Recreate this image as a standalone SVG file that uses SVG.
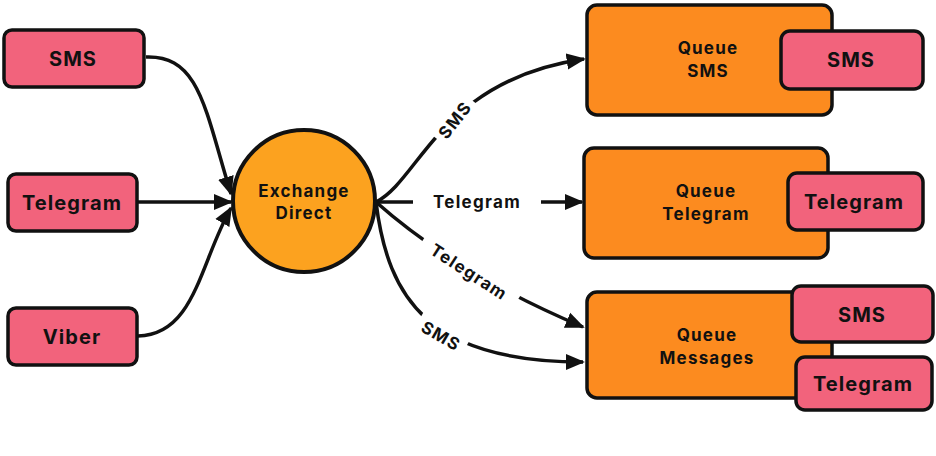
<svg xmlns="http://www.w3.org/2000/svg" width="936" height="456" viewBox="0 0 936 456">
<style>
.pink{fill:#F2637C;stroke:#111;stroke-width:3.5}
.orange{fill:#FC8B1F;stroke:#111;stroke-width:3.5}
.circ{fill:#FCA21F;stroke:#111;stroke-width:4}
.t{font-family:Inter,"Liberation Sans",sans-serif;font-weight:700;fill:#111;text-anchor:middle;dominant-baseline:central}
.big{font-size:20px;letter-spacing:1.1px}
.mid{font-size:17px;letter-spacing:1.2px}
.lbl{font-size:17px;letter-spacing:1.3px}
.edge{fill:none;stroke:#111;stroke-width:3.5}
.gap{fill:#fff}
</style>
<defs>
<marker id="ah" viewBox="0 0 10 10" refX="9" refY="5" markerWidth="5.5" markerHeight="5.5" orient="auto" markerUnits="strokeWidth">
<path d="M0,0.8 L10,5 L0,9.2 z" fill="#111"/>
</marker>
</defs>
<rect width="936" height="456" fill="#fff"/>

<g id="connectors">
<path class="edge" d="M146,57 C200,55 205,110 231,194" marker-end="url(#ah)"/>
<path class="edge" d="M138,202 L231,202" marker-end="url(#ah)"/>
<path class="edge" d="M138,336 C195,335 200,262 231,208" marker-end="url(#ah)"/>
<path class="edge" d="M376,202 C420,180 440,80 584,59" marker-end="url(#ah)"/>
<path class="edge" d="M376,202 L582,202" marker-end="url(#ah)"/>
<path class="edge" d="M376,202 C430,250 500,292 583,327" marker-end="url(#ah)"/>
<path class="edge" d="M376,202 C388,300 430,362 583,362" marker-end="url(#ah)"/>
<rect class="gap" x="-26" y="-13" width="52" height="26" transform="translate(455,120) rotate(-52)"/>
<rect class="gap" x="-64" y="-13" width="128" height="26" transform="translate(477,202)"/>
<rect class="gap" x="-56" y="-13" width="112" height="26" transform="translate(469,272) rotate(33)"/>
<rect class="gap" x="-27" y="-13" width="54" height="26" transform="translate(441,336) rotate(30)"/>
<text class="t lbl" transform="translate(455,120) rotate(-52)">SMS</text>
<text class="t lbl" transform="translate(477,202)">Telegram</text>
<text class="t lbl" transform="translate(469,272) rotate(33)">Telegram</text>
<text class="t lbl" transform="translate(441,336) rotate(30)">SMS</text>
</g>

<g id="src-sms">
<rect class="pink" x="4" y="30" width="140" height="57" rx="8"/>
<text class="t big" x="73" y="59">SMS</text>
</g>
<g id="src-telegram">
<rect class="pink" x="8" y="174" width="129" height="57" rx="8"/>
<text class="t big" x="72" y="203">Telegram</text>
</g>
<g id="src-viber">
<rect class="pink" x="8" y="308" width="129" height="57" rx="8"/>
<text class="t big" x="72" y="337">Viber</text>
</g>

<g id="exchange">
<circle class="circ" cx="304" cy="201" r="71"/>
<text class="t mid" x="304" y="191">Exchange</text>
<text class="t mid" x="304" y="213">Direct</text>
</g>

<g id="queue-sms">
<rect class="orange" x="587" y="5" width="245" height="110" rx="10"/>
<text class="t mid" x="708" y="48">Queue</text>
<text class="t mid" x="708" y="71">SMS</text>
<rect class="pink" x="781" y="31" width="142" height="58" rx="9"/>
<text class="t big" x="851" y="60">SMS</text>
</g>

<g id="queue-telegram">
<rect class="orange" x="584" y="148" width="244" height="110" rx="10"/>
<text class="t mid" x="706" y="191">Queue</text>
<text class="t mid" x="706" y="214">Telegram</text>
<rect class="pink" x="788" y="173" width="135" height="57" rx="9"/>
<text class="t big" x="854" y="202">Telegram</text>
</g>

<g id="queue-messages">
<rect class="orange" x="587" y="292" width="245" height="106" rx="10"/>
<text class="t mid" x="707" y="335">Queue</text>
<text class="t mid" x="707" y="358">Messages</text>
<rect class="pink" x="792" y="286" width="141" height="56" rx="9"/>
<text class="t big" x="862" y="315">SMS</text>
<rect class="pink" x="796" y="357" width="136" height="53" rx="9"/>
<text class="t big" x="863" y="384">Telegram</text>
</g>
</svg>
